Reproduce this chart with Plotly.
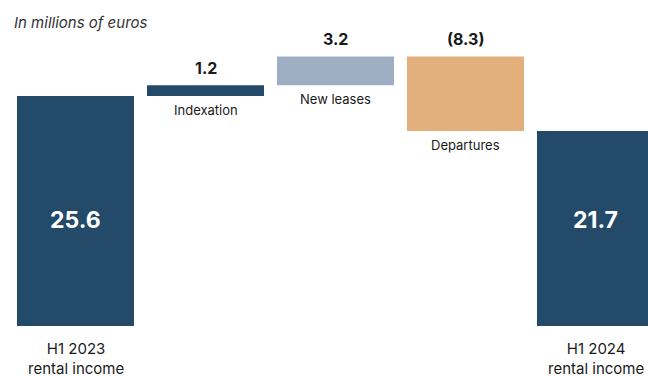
import plotly.graph_objects as go

# Data
categories = ["H1 2023<br>rental income", "Indexation", "New leases", "Departures", "H1 2024<br>rental income"]
start_value = 25.6
deltas = [1.2, 3.2, -8.3]
end_value = 21.7
value_labels = ["25.6", "1.2", "3.2", "(8.3)", "21.7"]
colors = ["#244a6a", "#244a6a", "#9eafc4", "#e3b07d", "#244a6a"]

# Build bases / heights
bases = [0]
heights = [start_value]
cum = start_value
for d in deltas:
    bases.append(cum)
    heights.append(d)
    cum += d
bases.append(0)
heights.append(end_value)

xs = list(range(len(categories)))
FONT = "Inter, Liberation Sans, Arial, sans-serif"
INSIDE_LABEL_Y = 11.8  # label placement height inside total bars

fig = go.Figure()
fig.add_trace(go.Bar(
    x=xs, y=heights, base=bases, width=0.9,
    marker=dict(color=colors, line=dict(width=0)),
    hoverinfo="skip",
))

annotations = []
# totals: inside value labels + bottom category labels
for i in (0, len(categories) - 1):
    annotations.append(dict(x=xs[i], y=INSIDE_LABEL_Y, xref="x", yref="y",
                            text="<b>" + value_labels[i] + "</b>", showarrow=False,
                            font=dict(family=FONT, size=23, color="white")))
    annotations.append(dict(x=xs[i], y=0, xref="x", yref="y", yanchor="top",
                            text=categories[i], showarrow=False, yshift=-11,
                            font=dict(family=FONT, size=15, color="#1a1a1a")))
# deltas
for i in range(1, len(categories) - 1):
    top = max(bases[i], bases[i] + heights[i])
    bot = min(bases[i], bases[i] + heights[i])
    annotations.append(dict(x=xs[i], y=top, xref="x", yref="y", yanchor="bottom",
                            text="<b>" + value_labels[i] + "</b>", showarrow=False, yshift=5,
                            font=dict(family=FONT, size=16, color="#1a1a1a")))
    annotations.append(dict(x=xs[i], y=bot, xref="x", yref="y", yanchor="top",
                            text=categories[i], showarrow=False, yshift=-4,
                            font=dict(family=FONT, size=13, color="#1a1a1a")))

annotations.append(dict(x=12 / 648, y=(376 - 22 - 50) / 326, xref="paper", yref="paper",
                        text="<i>In millions of euros</i>",
                        showarrow=False, xanchor="left", yanchor="middle",
                        font=dict(family=FONT, size=15, color="#333333")))

fig.update_layout(
    width=648, height=376,
    margin=dict(l=0, r=0, t=0, b=50),
    plot_bgcolor="white", paper_bgcolor="white",
    showlegend=False,
    xaxis=dict(range=[-0.5808, 4.4038], visible=False, fixedrange=True),
    yaxis=dict(range=[0, 36.28], visible=False, fixedrange=True),
    annotations=annotations,
)
fig.write_html("out.html")
